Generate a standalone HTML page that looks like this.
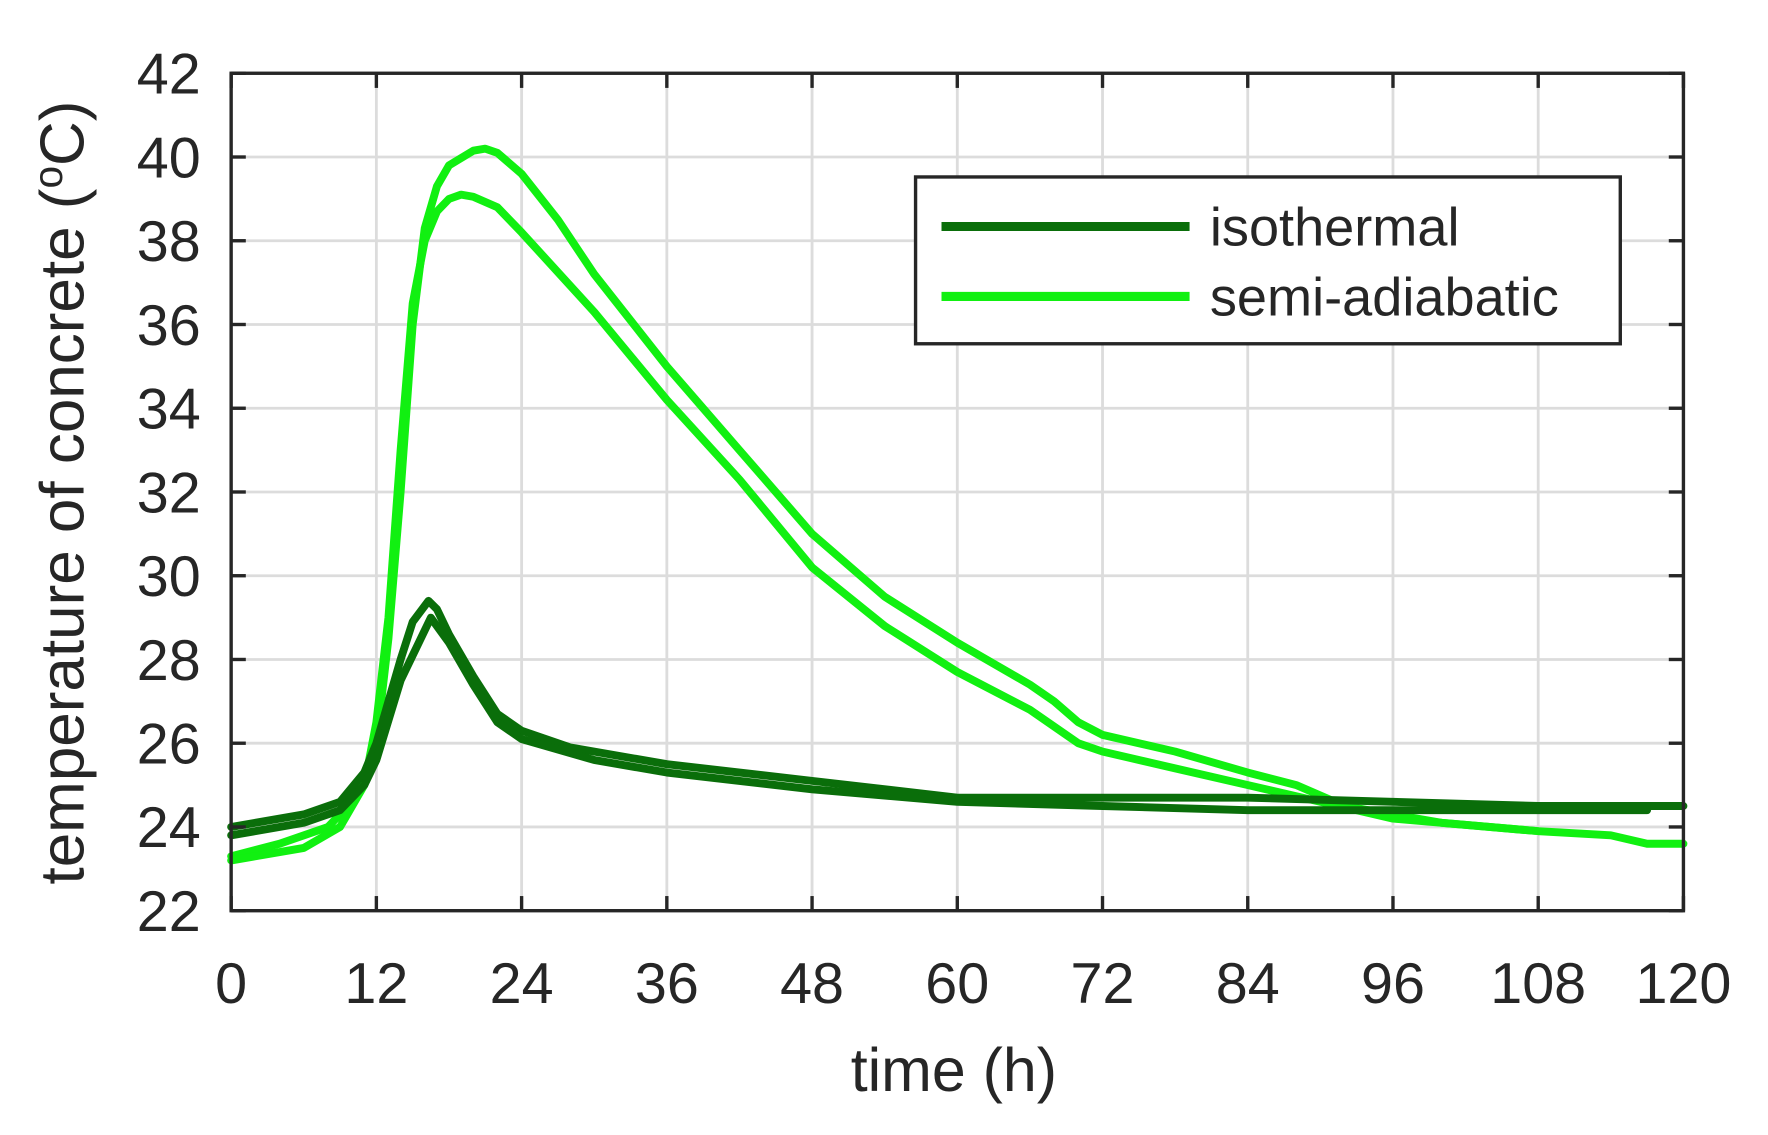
<!DOCTYPE html>
<html><head><meta charset="utf-8"><style>
html,body{margin:0;padding:0;background:#fff}
svg{display:block}
text{font-family:"Liberation Sans",sans-serif;fill:#262626}
</style></head><body>
<svg id="s" width="1768" height="1135" viewBox="0 0 1568 1007" preserveAspectRatio="none" xmlns="http://www.w3.org/2000/svg">
<g id="grid" stroke="#dcdcdc" stroke-width="2.5"></g>
<g id="curves" fill="none" stroke-linejoin="round" stroke-linecap="round" stroke-width="7"></g>
<rect x="205" y="65" width="1288" height="743" fill="none" stroke="#262626" stroke-width="3"/>
<g id="ticks" stroke="#262626" stroke-width="3"></g>
<g id="labels" font-size="51"></g>
<text x="846" y="968" font-size="54" text-anchor="middle">time (h)</text>
<text transform="translate(74,437) rotate(-90)" font-size="55" text-anchor="middle">temperature of concrete (<tspan dy="-19" font-size="36">o</tspan><tspan dy="19">C)</tspan></text>
<rect x="812" y="157" width="625" height="148" fill="#fff" stroke="#262626" stroke-width="3"/>
<line x1="835" y1="201" x2="1055" y2="201" stroke="#0a6e0a" stroke-width="8"/>
<line x1="835" y1="263" x2="1055" y2="263" stroke="#11f011" stroke-width="8"/>
<text x="1073" y="218" font-size="48">isothermal</text>
<text x="1073" y="280" font-size="48">semi-adiabatic</text>
</svg>
<script>
var X=function(t){return 205+t*1288/120},Y=function(v){return 808-(v-22)*743/20};
var ns="http://www.w3.org/2000/svg";
function el(p,n,a){var e=document.createElementNS(ns,n);for(var k in a)e.setAttribute(k,a[k]);document.getElementById(p).appendChild(e);return e;}
for(var t=12;t<120;t+=12){el("grid","line",{x1:X(t),x2:X(t),y1:65,y2:808});}
for(var v=24;v<42;v+=2){el("grid","line",{x1:205,x2:1493,y1:Y(v),y2:Y(v)});}
for(var t=0;t<=120;t+=12){el("ticks","line",{x1:X(t),x2:X(t),y1:808,y2:795});el("ticks","line",{x1:X(t),x2:X(t),y1:65,y2:78});
 var e=el("labels","text",{x:X(t),y:890,"text-anchor":"middle"});e.textContent=t;}
for(var v=22;v<=42;v+=2){el("ticks","line",{x1:205,x2:218,y1:Y(v),y2:Y(v)});el("ticks","line",{x1:1480,x2:1493,y1:Y(v),y2:Y(v)});
 var e=el("labels","text",{x:178,y:Y(v)+18,"text-anchor":"end"});e.textContent=v;}
function path(pts,c){var d="";pts.forEach(function(p,i){d+=(i?"L":"M")+X(p[0]).toFixed(1)+","+Y(p[1]).toFixed(1);});el("curves","path",{d:d,stroke:c});}
var G="#11f011",D="#0a6e0a";
path([[0,23.3],[4,23.6],[8,24],[10,24.6],[11,25.2],[12,26],[13,28.5],[14,32],[15,36],[16,38.3],[17,39.3],[18,39.8],[20,40.15],[21,40.2],[22,40.1],[24,39.6],[27,38.5],[30,37.2],[36,35],[42,33],[48,31],[54,29.5],[60,28.4],[66,27.4],[68,27],[70,26.5],[72,26.2],[78,25.8],[84,25.3],[88,25],[92,24.5],[96,24.3],[100,24.1],[108,23.9],[114,23.8],[117,23.6],[120,23.6]],G);
path([[0,23.2],[6,23.5],[9,24],[11,25],[12,26.5],[13,29],[14,33],[15,36.5],[16,38],[17,38.7],[18,39],[19,39.1],[20,39.05],[22,38.8],[24,38.2],[30,36.3],[36,34.2],[42,32.3],[48,30.2],[54,28.8],[60,27.7],[66,26.8],[70,26],[72,25.8],[78,25.4],[84,25],[90,24.6],[96,24.2],[108,23.9]],G);
path([[0,24],[6,24.3],[9,24.6],[11,25.3],[12,26],[13,27],[14,28],[15,28.9],[16.3,29.4],[17,29.2],[18,28.6],[20,27.6],[22,26.7],[24,26.3],[28,25.9],[36,25.5],[48,25.1],[60,24.7],[72,24.7],[84,24.7],[96,24.6],[108,24.5],[120,24.5]],D);
path([[0,23.8],[6,24.1],[9,24.4],[11,25],[12,25.6],[14,27.5],[16.5,29],[18,28.4],[20,27.4],[22,26.5],[24,26.1],[30,25.6],[36,25.3],[48,24.9],[60,24.6],[72,24.5],[84,24.4],[96,24.4],[108,24.4],[117,24.4]],D);
</script>
</body></html>
